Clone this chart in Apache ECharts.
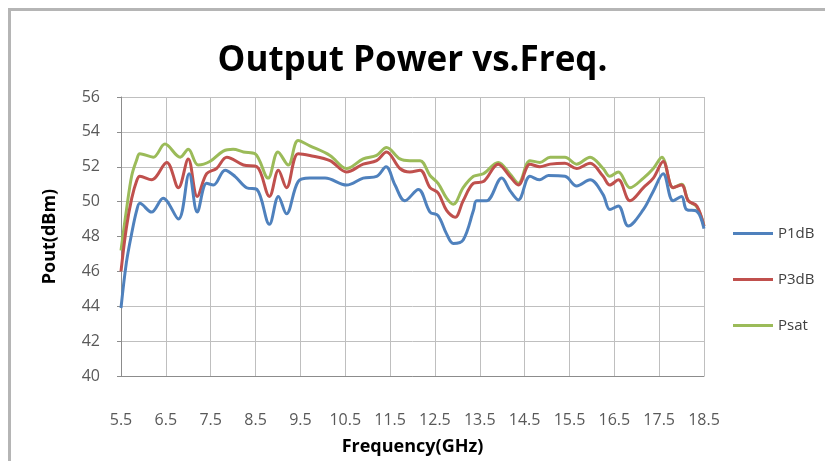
<!DOCTYPE html>
<html>
<head>
<meta charset="utf-8">
<script src="https://cdn.jsdelivr.net/npm/echarts@6/dist/echarts.min.js"></script>
<style>
  html, body { margin: 0; padding: 0; background: #fff; }
  #frame { position: absolute; left: 8px; top: 8px; width: 830px; height: 470px;
           border-left: 3px solid #b5b5b5; border-top: 3px solid #b5b5b5; }
  #chart { position: absolute; left: 0; top: 0; width: 825px; height: 461px; }
</style>
</head>
<body>
<div id="frame"></div>
<div id="chart"></div>
<script>
// frequency (GHz) / output power (dBm)
const p1dbFreq = [5.5, 5.62, 5.74, 5.85, 5.92, 6.18, 6.44, 6.78, 7.02, 7.2, 7.41, 7.56, 7.82, 8.04, 8.3, 8.53, 8.81, 9.01, 9.19, 9.45,
  9.71, 10.05, 10.53, 10.9, 11.2, 11.41, 11.61, 11.83, 12.13, 12.39, 12.57, 12.76, 12.91, 13.13, 13.36, 13.43, 13.65, 13.99, 14.17,
  14.36, 14.62, 14.84, 15.03, 15.4, 15.66, 15.96, 16.25, 16.4, 16.59, 16.81, 17.15, 17.37, 17.59, 17.81, 18.0, 18.11, 18.34, 18.5];
const p1dbPower = [43.9, 46.5, 48.2, 49.5, 49.9, 49.4, 50.2, 49.0, 51.6, 49.4, 51.05, 50.95, 51.8, 51.45, 50.8, 50.7, 48.7, 50.3, 49.3, 51.15,
  51.35, 51.35, 50.95, 51.35, 51.45, 52.0, 50.95, 50.05, 50.7, 49.4, 49.2, 48.15, 47.6, 47.8, 49.5, 50.05, 50.05, 51.35, 50.65,
  50.1, 51.45, 51.25, 51.5, 51.45, 50.9, 51.25, 50.4, 49.55, 49.75, 48.6, 49.55, 50.6, 51.6, 50.05, 50.3, 49.55, 49.45, 48.45];

const p3dbFreq = [5.5, 5.62, 5.74, 5.85, 5.92, 6.18, 6.52, 6.78, 7.0, 7.2, 7.41, 7.63, 7.86, 8.23, 8.53, 8.81, 9.01, 9.19, 9.45,
  9.71, 10.16, 10.53, 10.9, 11.2, 11.42, 11.72, 11.94, 12.17, 12.39, 12.57, 12.76, 12.95, 13.13, 13.36, 13.58, 13.91, 14.17,
  14.36, 14.62, 14.84, 15.07, 15.4, 15.66, 15.96, 16.25, 16.4, 16.59, 16.85, 17.15, 17.37, 17.59, 17.81, 18.0, 18.15, 18.34, 18.5];
const p3dbPower = [46.0, 48.5, 50.2, 51.2, 51.45, 51.25, 52.25, 50.8, 52.45, 50.3, 51.6, 51.9, 52.55, 52.1, 52.0, 50.3, 51.8, 50.8, 52.75,
  52.65, 52.35, 51.7, 52.15, 52.35, 52.85, 51.9, 51.7, 51.8, 50.8, 50.5, 49.5, 49.1, 50.05, 51.05, 51.15, 52.15, 51.45,
  50.95, 52.15, 52.0, 52.15, 52.2, 51.9, 52.2, 51.45, 50.95, 51.25, 50.05, 50.8, 51.35, 52.3, 50.8, 50.95, 50.05, 49.75, 48.6];

const psatFreq = [5.5, 5.62, 5.74, 5.85, 5.92, 6.22, 6.48, 6.82, 7.0, 7.22, 7.48, 7.78, 8.0, 8.23, 8.49, 8.78, 9.0, 9.23, 9.45,
  9.71, 10.16, 10.53, 10.9, 11.2, 11.42, 11.72, 11.94, 12.17, 12.39, 12.57, 12.76, 12.91, 13.13, 13.36, 13.58, 13.91, 14.17,
  14.36, 14.62, 14.84, 15.07, 15.4, 15.66, 15.96, 16.25, 16.4, 16.59, 16.85, 17.15, 17.37, 17.56, 17.81, 18.0, 18.15, 18.34, 18.5];
const psatPower = [47.2, 49.5, 51.5, 52.4, 52.75, 52.55, 53.3, 52.55, 53.0, 52.1, 52.3, 52.9, 53.0, 52.85, 52.75, 51.35, 52.85, 52.1, 53.5,
  53.2, 52.65, 51.9, 52.45, 52.65, 53.1, 52.45, 52.35, 52.35, 51.5, 51.05, 50.2, 49.85, 50.8, 51.45, 51.6, 52.25, 51.6,
  51.05, 52.35, 52.25, 52.55, 52.55, 52.15, 52.55, 51.9, 51.45, 51.7, 50.8, 51.35, 51.9, 52.55, 50.8, 51.0, 50.05, 49.7, 48.6];

const seriesNames = ['P1dB', 'P3dB', 'Psat'];
const seriesColors = ['#4f81bd', '#c0504d', '#9bbb59'];

const zip = (xs, ys) => xs.map((x, i) => [x, ys[i]]);
const seriesData = [zip(p1dbFreq, p1dbPower), zip(p3dbFreq, p3dbPower), zip(psatFreq, psatPower)];

const font = "'Open Sans', sans-serif";
const chart = echarts.init(document.getElementById('chart'));

chart.setOption({
  animation: false,
  title: {
    text: 'Output Power vs.Freq.',
    left: 'center',
    top: 39,
    textStyle: { fontFamily: font, fontSize: 35, fontWeight: 'bold', color: '#000' }
  },
  legend: {
    orient: 'vertical',
    left: 728,
    top: 221,
    itemGap: 31,
    itemWidth: 40,
    itemHeight: 3,
    icon: 'rect',
    data: seriesNames,
    textStyle: { fontFamily: font, fontSize: 15, color: '#404040' }
  },
  grid: { left: 121, top: 97, width: 583, height: 285 },
  xAxis: {
    type: 'value',
    min: 5.5,
    max: 18.5,
    interval: 1,
    name: 'Frequency(GHz)',
    nameLocation: 'middle',
    nameGap: 62,
    nameTextStyle: { fontFamily: font, fontSize: 18, fontWeight: 'bold', color: '#000' },
    axisLine: { lineStyle: { color: '#8c8c8c' } },
    axisTick: { show: false },
    axisLabel: { margin: 36, fontFamily: font, fontSize: 16, color: '#595959' },
    splitLine: { show: true, lineStyle: { color: '#bfbfbf' } }
  },
  yAxis: {
    type: 'value',
    min: 40,
    max: 56,
    interval: 2,
    name: 'Pout(dBm)',
    nameLocation: 'middle',
    nameGap: 62,
    nameTextStyle: { fontFamily: font, fontSize: 18, fontWeight: 'bold', color: '#000' },
    axisLine: { show: true, lineStyle: { color: '#8c8c8c' } },
    axisTick: { show: true, length: 4, lineStyle: { color: '#8c8c8c' } },
    axisLabel: { margin: 21, fontFamily: font, fontSize: 16, color: '#595959' },
    splitLine: { show: true, lineStyle: { color: '#bfbfbf' } }
  },
  series: seriesNames.map((name, i) => ({
    name: name,
    type: 'line',
    data: seriesData[i],
    smooth: 0.35,
    symbol: 'none',
    z: 10 - i,
    lineStyle: { width: 3, color: seriesColors[i] },
    itemStyle: { color: seriesColors[i] }
  }))
});
</script>
</body>
</html>
